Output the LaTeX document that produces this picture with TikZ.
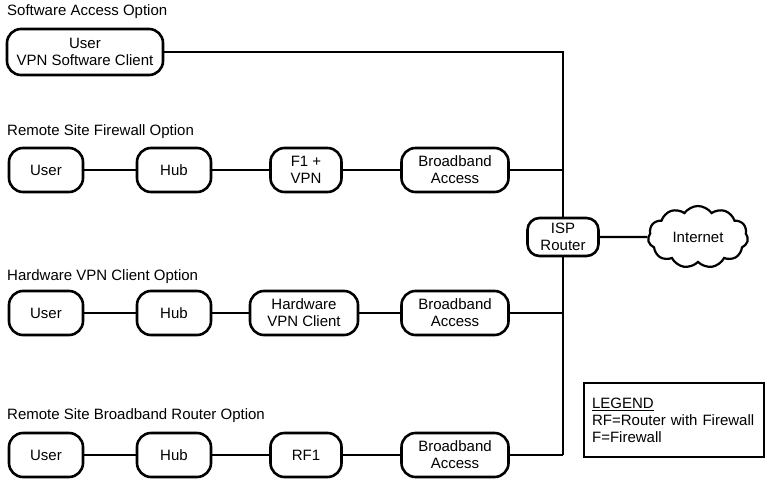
\documentclass[tikz,border=0pt]{standalone}
\usepackage{fontspec}
\setmainfont{Liberation Sans}
\usetikzlibrary{shapes.symbols}

\begin{document}
\begin{tikzpicture}[x=1pt,y=-1pt,font=\fontsize{15}{17}\selectfont,
    dev/.style={draw, line width=2.6pt, rounded corners=14pt, minimum height=44pt, align=center, inner sep=2pt, fill=white},
    opt/.style={anchor=west, inner sep=0pt},
    link/.style={line width=2.2pt}]

\useasboundingbox (0,0) rectangle (765,479);

% option labels
\node [opt] (optA) at (7,12) {Software Access Option};
\node [opt] (optB) at (7,132) {Remote Site Firewall Option};
\node [opt] (optC) at (7,277) {Hardware VPN Client Option};
\node [opt] (optD) at (7,416) {Remote Site Broadband Router Option};

% software access
\node [dev, minimum width=156pt, minimum height=46pt] (swuser) at (85,52) {User\\VPN Software Client};

% remote site firewall
\node [dev, minimum width=74pt] (userB) at (46,170) {User};
\node [dev, minimum width=74pt] (hubB) at (174,170) {Hub};
\node [dev, minimum width=71pt] (fw) at (306,170) {F1 +\\VPN};
\node [dev, minimum width=107pt] (bbB) at (455,170) {Broadband\\Access};

% hardware vpn client
\node [dev, minimum width=74pt] (userC) at (46,313) {User};
\node [dev, minimum width=74pt] (hubC) at (174,313) {Hub};
\node [dev, minimum width=108pt] (hwvpn) at (304,313) {Hardware\\VPN Client};
\node [dev, minimum width=107pt] (bbC) at (455,313) {Broadband\\Access};

% broadband router
\node [dev, minimum width=74pt] (userD) at (46,455) {User};
\node [dev, minimum width=74pt] (hubD) at (174,455) {Hub};
\node [dev, minimum width=71pt] (rf) at (306,455) {RF1};
\node [dev, minimum width=107pt] (bbD) at (455,455) {Broadband\\Access};

% isp and internet
\node [dev, minimum width=71pt, minimum height=38pt, rounded corners=12pt] (isp) at (563,237) {ISP\\Router};
\node [draw, cloud, cloud puffs=11, cloud puff arc=110, aspect=1.7, line width=2.2pt,
       minimum width=100pt, minimum height=62pt, inner sep=0pt] (inet) at (698,237) {Internet};

\coordinate (jA) at (563,52);
\coordinate (jB) at (563,170);
\coordinate (jC) at (563,313);
\coordinate (jD) at (563,455);

\draw [link] (swuser) -- (jA) -- (isp);
\draw [link] (isp) -- (jD);
\draw [link] (userB) -- (hubB);
\draw [link] (hubB) -- (fw);
\draw [link] (fw) -- (bbB);
\draw [link] (bbB) -- (jB);
\draw [link] (userC) -- (hubC);
\draw [link] (hubC) -- (hwvpn);
\draw [link] (hwvpn) -- (bbC);
\draw [link] (bbC) -- (jC);
\draw [link] (userD) -- (hubD);
\draw [link] (hubD) -- (rf);
\draw [link] (rf) -- (bbD);
\draw [link] (bbD) -- (jD);
\draw [link] (isp) -- (inet);

% legend
\node [draw, line width=2.2pt, anchor=north west, align=left, minimum width=180pt,
       minimum height=74pt, inner xsep=8pt, text width=164pt] (legend) at (583,382)
  {\underline{LEGEND}\\RF=Router with Firewall\\F=Firewall};
\end{tikzpicture}
\end{document}
